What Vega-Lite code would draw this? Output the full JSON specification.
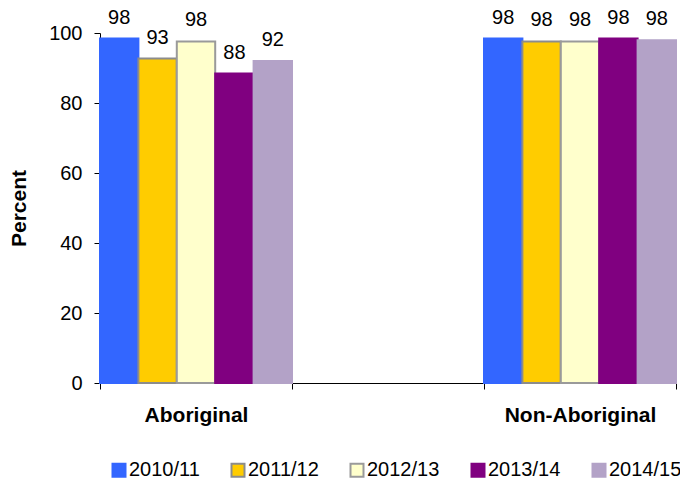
{
  "$schema": "https://vega.github.io/schema/vega-lite/v6.json",
  "width": 576,
  "height": 350,
  "autosize": {"type": "none"},
  "padding": {"left": 100, "top": 33, "right": 4, "bottom": 100},
  "background": "white",
  "config": {
    "view": {"stroke": null},
    "font": "Liberation Sans",
    "axis": {"labelFont": "Liberation Sans", "titleFont": "Liberation Sans", "labelColor": "black", "titleColor": "black", "domainColor": "black", "tickColor": "black", "grid": false},
    "legend": {"labelFont": "Liberation Sans"}
  },
  "data": {
    "values": [
      {"group": "Aboriginal", "year": "2010/11", "value": 98.4},
      {"group": "Aboriginal", "year": "2011/12", "value": 92.7},
      {"group": "Aboriginal", "year": "2012/13", "value": 97.6},
      {"group": "Aboriginal", "year": "2013/14", "value": 88.4},
      {"group": "Aboriginal", "year": "2014/15", "value": 92.0},
      {"group": "Non-Aboriginal", "year": "2010/11", "value": 98.4},
      {"group": "Non-Aboriginal", "year": "2011/12", "value": 97.6},
      {"group": "Non-Aboriginal", "year": "2012/13", "value": 97.6},
      {"group": "Non-Aboriginal", "year": "2013/14", "value": 98.4},
      {"group": "Non-Aboriginal", "year": "2014/15", "value": 97.9}
    ]
  },
  "encoding": {
    "x": {
      "field": "group",
      "type": "nominal",
      "scale": {"domain": ["Aboriginal", " ", "Non-Aboriginal"], "paddingInner": 0, "paddingOuter": 0},
      "axis": {
        "title": null,
        "labelAngle": 0,
        "labelFontSize": 21,
        "labelFontWeight": "bold",
        "labelPadding": 15,
        "tickSize": 6,
        "tickBand": "extent",
        "domainWidth": 1
      }
    },
    "xOffset": {
      "field": "year",
      "type": "nominal",
      "scale": {"domain": ["2010/11", "2011/12", "2012/13", "2013/14", "2014/15"], "paddingInner": 0, "paddingOuter": 0}
    },
    "y": {
      "field": "value",
      "type": "quantitative",
      "scale": {"domain": [0, 100], "nice": false},
      "axis": {
        "title": "Percent",
        "titleFontSize": 21,
        "titleFontWeight": "bold",
        "titlePadding": 19,
        "labelFontSize": 20,
        "labelPadding": 12,
        "tickSize": 6,
        "values": [0, 20, 40, 60, 80, 100]
      }
    }
  },
  "layer": [
    {
      "mark": {"type": "bar", "strokeWidth": 2},
      "encoding": {
        "fill": {
          "field": "year",
          "type": "nominal",
          "scale": {"domain": ["2010/11", "2011/12", "2012/13", "2013/14", "2014/15"], "range": ["#3366FF", "#FFCC00", "#FFFFCC", "#800080", "#B3A2C7"]},
          "legend": {
            "title": null,
            "orient": "none",
            "direction": "horizontal",
            "columns": 5,
            "legendX": 9,
            "legendY": 427,
            "symbolType": "square",
            "symbolSize": 169,
            "symbolStrokeWidth": 2,
            "labelFontSize": 20,
            "labelColor": "black",
            "labelOffset": 0,
            "columnPadding": 27
          }
        },
        "stroke": {
          "field": "year",
          "type": "nominal",
          "scale": {"domain": ["2010/11", "2011/12", "2012/13", "2013/14", "2014/15"], "range": ["#3366FF", "#8C8C8C", "#9A9A9A", "#800080", "#B3A2C7"]},
          "legend": {
            "title": null,
            "orient": "none",
            "direction": "horizontal",
            "columns": 5,
            "legendX": 9,
            "legendY": 427,
            "symbolType": "square",
            "symbolSize": 169,
            "symbolStrokeWidth": 2,
            "labelFontSize": 20,
            "labelColor": "black",
            "labelOffset": 0,
            "columnPadding": 27
          }
        }
      }
    },
    {
      "mark": {"type": "text", "fontSize": 20, "color": "black", "baseline": "alphabetic", "dy": -15},
      "encoding": {
        "text": {"field": "value", "type": "quantitative", "format": ".0f"}
      }
    }
  ]
}
